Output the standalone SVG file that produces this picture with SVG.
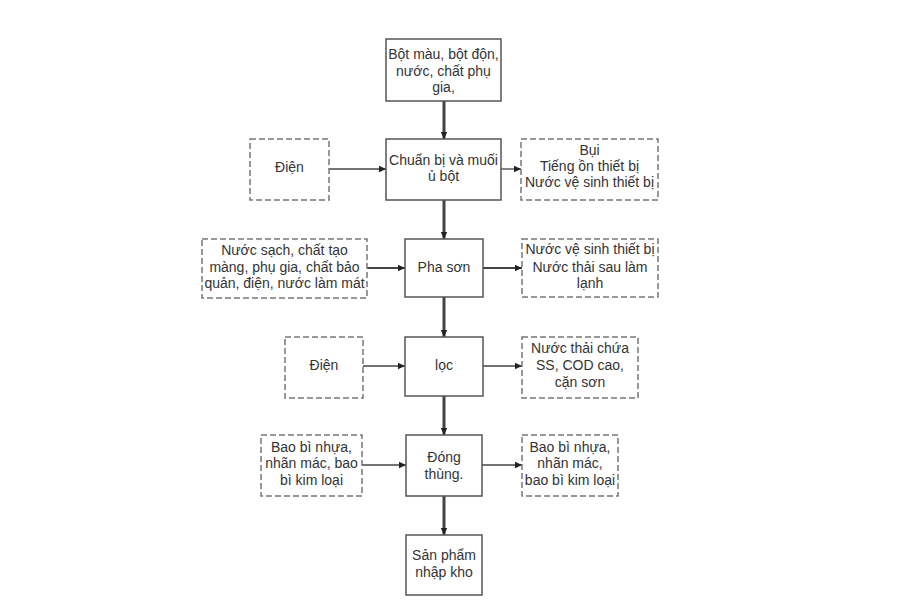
<svg xmlns="http://www.w3.org/2000/svg" width="900" height="600" viewBox="0 0 900 600">
<style>
.box{fill:#fff;stroke:#555;stroke-width:1.5}
.dbox{fill:#fff;stroke:#777;stroke-width:1.5;stroke-dasharray:6 3}
text{font-family:"Liberation Sans",Arial,sans-serif;font-size:14px;fill:#333;text-anchor:middle}
.main{stroke:#444;stroke-width:3;fill:none}
.side{stroke:#444;stroke-width:1.3;fill:none}
.side2{stroke:#444;stroke-width:2;fill:none}
</style>
<defs>
<marker id="ah" markerUnits="userSpaceOnUse" markerWidth="8" markerHeight="8" refX="7" refY="4" orient="auto">
<path d="M0,0.8 L7,4 L0,7.2 Z" fill="#222"/>
</marker>
</defs>
<rect width="900" height="600" fill="#fff"/>
<g id="connectors">
<line class="main" x1="444" y1="101" x2="444" y2="139" marker-end="url(#ah)"/>
<line class="main" x1="444" y1="200" x2="444" y2="239" marker-end="url(#ah)"/>
<line class="main" x1="444" y1="297" x2="444" y2="337" marker-end="url(#ah)"/>
<line class="main" x1="444" y1="396" x2="444" y2="435" marker-end="url(#ah)"/>
<line class="main" x1="444" y1="496" x2="444" y2="535" marker-end="url(#ah)"/>
<line class="side" x1="329" y1="169" x2="386" y2="169" marker-end="url(#ah)"/>
<line class="side" x1="501" y1="169" x2="521" y2="169" marker-end="url(#ah)"/>
<line class="side2" x1="367" y1="268" x2="405" y2="268" marker-end="url(#ah)"/>
<line class="side2" x1="483" y1="268" x2="522" y2="268" marker-end="url(#ah)"/>
<line class="side" x1="363" y1="366" x2="405" y2="366" marker-end="url(#ah)"/>
<line class="side" x1="483" y1="366" x2="522" y2="366" marker-end="url(#ah)"/>
<line class="side" x1="362" y1="465" x2="406" y2="465" marker-end="url(#ah)"/>
<line class="side" x1="482" y1="465" x2="522" y2="465" marker-end="url(#ah)"/>
</g>
<g id="input-materials">
<rect class="box" x="386" y="39" width="115" height="62"/>
<text x="443.5" y="59">Bột màu, bột độn,</text>
<text x="443.5" y="76">nước, chất phụ</text>
<text x="443.5" y="92">gia,</text>
</g>
<g id="prep">
<rect class="box" x="386" y="139" width="115" height="61"/>
<text x="443.5" y="165">Chuẩn bị và muối</text>
<text x="443.5" y="181">ủ bột</text>
</g>
<g id="dien1">
<rect class="dbox" x="250" y="139" width="79" height="61"/>
<text x="289.5" y="172">Điện</text>
</g>
<g id="out1">
<rect class="dbox" x="521" y="139" width="137" height="61"/>
<text x="589.5" y="155">Bụi</text>
<text x="589.5" y="171">Tiếng ồn thiết bị</text>
<text x="589.5" y="187">Nước vệ sinh thiết bị</text>
</g>
<g id="pha-son">
<rect class="box" x="405" y="239" width="78" height="58"/>
<text x="444" y="272">Pha sơn</text>
</g>
<g id="in2">
<rect class="dbox" x="202" y="239" width="165" height="59"/>
<text x="284.5" y="255">Nước sạch, chất tạo</text>
<text x="284.5" y="272">màng, phụ gia, chất bảo</text>
<text x="284.5" y="288">quản, điện, nước làm mát</text>
</g>
<g id="out2">
<rect class="dbox" x="522" y="239" width="136" height="58"/>
<text x="590" y="254">Nước vệ sinh thiết bị</text>
<text x="590" y="272">Nước thải sau làm</text>
<text x="590" y="288">lạnh</text>
</g>
<g id="loc">
<rect class="box" x="405" y="337" width="78" height="59"/>
<text x="444" y="370">lọc</text>
</g>
<g id="dien2">
<rect class="dbox" x="285" y="337" width="78" height="61"/>
<text x="324" y="370">Điện</text>
</g>
<g id="out3">
<rect class="dbox" x="522" y="337" width="116" height="61"/>
<text x="580" y="353">Nước thải chứa</text>
<text x="580" y="370">SS, COD cao,</text>
<text x="580" y="387">cặn sơn</text>
</g>
<g id="dong-thung">
<rect class="box" x="406" y="435" width="76" height="61"/>
<text x="444" y="462">Đóng</text>
<text x="444" y="479">thùng.</text>
</g>
<g id="in4">
<rect class="dbox" x="261" y="435" width="101" height="61"/>
<text x="311.5" y="452">Bao bì nhựa,</text>
<text x="311.5" y="468">nhãn mác, bao</text>
<text x="311.5" y="485">bì kim loại</text>
</g>
<g id="out4">
<rect class="dbox" x="522" y="435" width="96" height="61"/>
<text x="570" y="452">Bao bì nhựa,</text>
<text x="570" y="468">nhãn mác,</text>
<text x="570" y="485">bao bì kim loại</text>
</g>
<g id="san-pham">
<rect class="box" x="406" y="535" width="76" height="60"/>
<text x="444" y="560">Sản phẩm</text>
<text x="444" y="577">nhập kho</text>
</g>
</svg>
